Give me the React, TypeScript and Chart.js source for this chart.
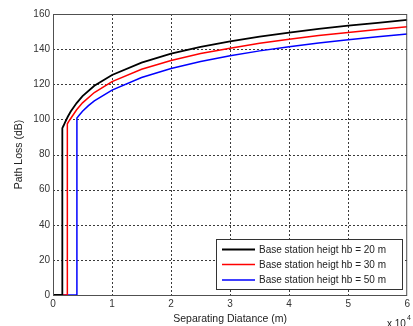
import React, { useEffect, useRef } from "react";
import { Chart, registerables } from "chart.js";

Chart.register(...registerables);

// Separating distance in meters
const distHb20 = [0, 1580, 1580, 1800, 2000, 2500, 3000, 4000, 5000, 7000, 10000, 15000, 20000, 25000, 30000, 35000, 40000, 45000, 50000, 55000, 60000];
const lossHb20 = [0, 0, 95, 96.5, 98, 101.5, 104.5, 109.3, 113.2, 119.1, 125.3, 132.3, 137.5, 141.3, 144.4, 147.1, 149.4, 151.5, 153.4, 155, 156.6];

const distHb30 = [0, 2430, 2430, 2700, 3000, 4000, 5000, 7000, 10000, 15000, 20000, 25000, 30000, 35000, 40000, 45000, 50000, 55000, 60000];
const lossHb30 = [0, 0, 97.5, 99, 100.5, 105.5, 109.4, 115.3, 121.5, 128.5, 133.5, 137.5, 140.5, 143.3, 145.6, 147.7, 149.5, 151.2, 152.8];

const distHb50 = [0, 4050, 4050, 4500, 5000, 6000, 7000, 10000, 15000, 20000, 25000, 30000, 35000, 40000, 45000, 50000, 55000, 60000];
const lossHb50 = [0, 0, 100.8, 102.6, 104.6, 107.8, 110.5, 116.7, 123.8, 129, 133, 136.2, 139, 141.4, 143.5, 145.3, 147, 148.6];

const xTicks = [0, 10000, 20000, 30000, 40000, 50000, 60000];
const yTicks = [0, 20, 40, 60, 80, 100, 120, 140, 160];

const seriesLabels = [
  "Base station heigt hb = 20 m",
  "Base station heigt hb = 30 m",
  "Base station heigt hb = 50 m",
];
const seriesColors = ["#000000", "#ff0000", "#0000ff"];
const xTitle = "Separating Diatance (m)";
const yTitle = "Path Loss (dB)";

const FONT = "'Liberation Sans', Arial, Helvetica, sans-serif";

const toPoints = (xs: number[], ys: number[]) => xs.map((x, i) => ({ x, y: ys[i] }));

const gridPlugin = {
  id: "dotgrid",
  beforeDatasetsDraw(chart: any) {
    const { ctx, chartArea, scales } = chart;
    const { left, right, top, bottom } = chartArea;
    ctx.save();
    ctx.strokeStyle = "#3a3a3a";
    ctx.lineWidth = 1;
    ctx.setLineDash([2, 2]);
    xTicks.forEach((v) => {
      const px = Math.round(scales.x.getPixelForValue(v)) + 0.5;
      if (px <= left + 1 || px >= right - 1) return;
      ctx.beginPath();
      ctx.moveTo(px, top);
      ctx.lineTo(px, bottom);
      ctx.stroke();
    });
    yTicks.forEach((v) => {
      const py = Math.round(scales.y.getPixelForValue(v)) + 0.5;
      if (py <= top + 1 || py >= bottom - 1) return;
      ctx.beginPath();
      ctx.moveTo(left, py);
      ctx.lineTo(right, py);
      ctx.stroke();
    });
    ctx.restore();
  },
};

const decorPlugin = {
  id: "decor",
  afterDraw(chart: any) {
    const { ctx, chartArea } = chart;
    const { left, right, top, bottom } = chartArea;
    ctx.save();
    // axes box
    ctx.strokeStyle = "#505050";
    ctx.lineWidth = 1;
    ctx.strokeRect(left + 0.5, top + 0.5, right - left - 1, bottom - top);

    // legend
    const lx = 216, ly = 239, lw = 186, lh = 50;
    ctx.fillStyle = "#ffffff";
    ctx.fillRect(lx, ly, lw, lh);
    ctx.strokeStyle = "#333333";
    ctx.strokeRect(lx + 0.5, ly + 0.5, lw, lh);
    const rows = [249.5, 264.5, 280];
    ctx.font = `10px ${FONT}`;
    ctx.textBaseline = "middle";
    ctx.textAlign = "left";
    seriesLabels.forEach((lab, i) => {
      ctx.strokeStyle = seriesColors[i];
      ctx.lineWidth = i === 0 ? 2 : 1.6;
      ctx.beginPath();
      ctx.moveTo(222, rows[i]);
      ctx.lineTo(255, rows[i]);
      ctx.stroke();
      ctx.fillStyle = "#222222";
      ctx.fillText(lab, 259, rows[i] + 0.5);
    });

    // axis titles
    ctx.fillStyle = "#222222";
    ctx.font = `10.5px ${FONT}`;
    ctx.textAlign = "center";
    ctx.textBaseline = "middle";
    ctx.fillText(xTitle, (left + right) / 2, 319);
    ctx.save();
    ctx.translate(19, (top + bottom) / 2);
    ctx.rotate(-Math.PI / 2);
    ctx.fillText(yTitle, 0, 0);
    ctx.restore();

    // exponent label
    ctx.textAlign = "left";
    ctx.textBaseline = "alphabetic";
    ctx.font = `10px ${FONT}`;
    ctx.fillText("x 10", 387, 327);
    ctx.font = `7px ${FONT}`;
    ctx.fillText("4", 407, 320);
    ctx.restore();
  },
};

export default function App() {
  const ref = useRef<HTMLCanvasElement>(null);
  useEffect(() => {
    document.body.style.margin = "0";
    const datasets = [
      toPoints(distHb20, lossHb20),
      toPoints(distHb30, lossHb30),
      toPoints(distHb50, lossHb50),
    ].map((data, i) => ({
      label: seriesLabels[i],
      data,
      borderColor: seriesColors[i],
      backgroundColor: seriesColors[i],
      borderWidth: i === 0 ? 1.8 : 1.5,
      pointRadius: 0,
      tension: 0,
      fill: false,
    }));
    const chart = new Chart(ref.current!, {
      type: "line",
      data: { datasets },
      options: {
        animation: false,
        responsive: false,
        layout: { padding: { top: 14, right: 5, left: 0, bottom: 0 } },
        plugins: { legend: { display: false }, tooltip: { enabled: false } },
        scales: {
          x: {
            type: "linear",
            min: 0,
            max: 60000,
            afterFit: (s: any) => { s.height = 31; },
            afterBuildTicks: (s: any) => { s.ticks = xTicks.map((v) => ({ value: v })); },
            ticks: {
              padding: 3,
              color: "#333333",
              font: { family: FONT, size: 10 },
              callback: (v: any) => String(Number(v) / 10000),
              maxRotation: 0,
              autoSkip: false,
            },
            grid: { display: false, drawTicks: false },
            border: { display: false },
          },
          y: {
            type: "linear",
            min: 0,
            max: 160,
            afterFit: (s: any) => { s.width = 53; },
            afterBuildTicks: (s: any) => { s.ticks = yTicks.map((v) => ({ value: v })); },
            ticks: {
              padding: 3,
              color: "#333333",
              font: { family: FONT, size: 10 },
              autoSkip: false,
            },
            grid: { display: false, drawTicks: false },
            border: { display: false },
          },
        },
      } as any,
      plugins: [gridPlugin, decorPlugin],
    });
    return () => chart.destroy();
  }, []);
  return (
    <div style={{ position: "fixed", left: 0, top: 0, width: 413, height: 326, background: "#fff" }}>
      <canvas ref={ref} width={413} height={326} style={{ width: 413, height: 326 }} />
    </div>
  );
}
